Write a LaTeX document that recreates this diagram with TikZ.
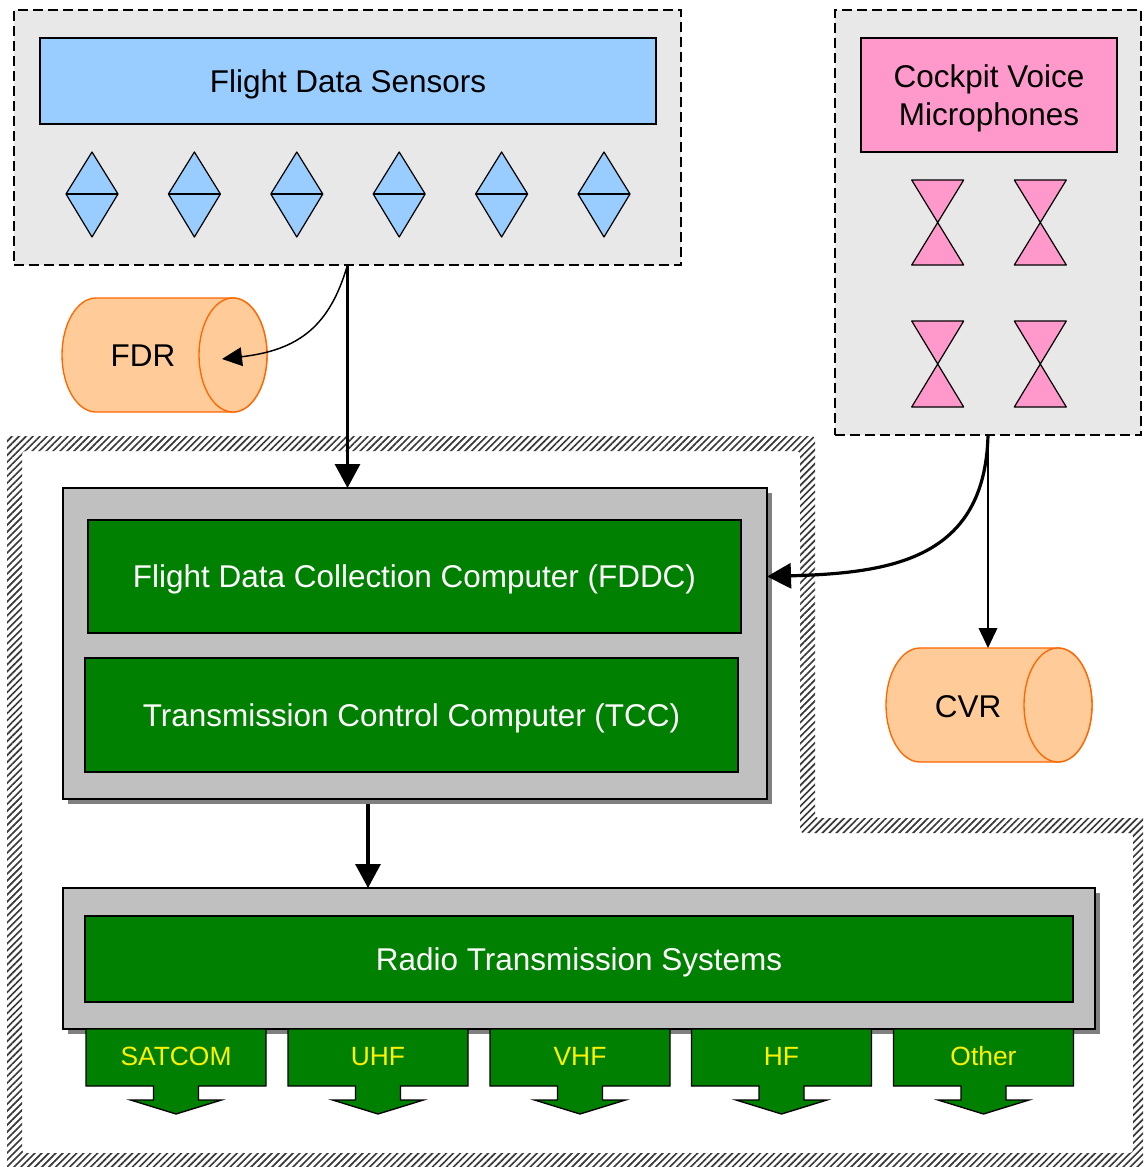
\documentclass[tikz,border=0pt]{standalone}
\usepackage{fontspec}
\setmainfont{Liberation Sans}
\usetikzlibrary{arrows.meta,shadows,patterns.meta}
\definecolor{groupgray}{HTML}{E8E8E8}
\definecolor{sensorblue}{HTML}{99CCFF}
\definecolor{micpink}{HTML}{FF99CC}
\definecolor{recfill}{HTML}{FFCC99}
\definecolor{recline}{HTML}{FF6600}
\definecolor{compgray}{HTML}{C0C0C0}
\definecolor{shadowgray}{HTML}{808080}
\definecolor{boxgreen}{HTML}{008000}
\definecolor{hatchcol}{HTML}{383838}
\newcommand\bigfont{\fontsize{23.6}{28.5}\selectfont}
\newcommand\smallfont{\fontsize{19.8}{24}\selectfont}
\begin{document}
\begin{tikzpicture}[x=0.75pt,y=-0.75pt,
  wh/.style 2 args={minimum width=#1*0.75pt, minimum height=#2*0.75pt, inner sep=0pt, outer sep=0pt},
  bigcap/.style={text height=16.9pt, text depth=0pt},
  smallcap/.style={text height=14.2pt, text depth=0pt},
  groupbox/.style={draw=black, fill=groupgray, line width=1.1pt, dash pattern=on 7.5pt off 3.75pt},
  colbox/.style={draw=black, line width=1pt, font=\bigfont, text=black, bigcap},
  container/.style={draw=black, fill=compgray, line width=0.8pt,
    drop shadow={shadow xshift=3.75pt, shadow yshift=-3.75pt, fill=shadowgray, opacity=1}},
  greenbox/.style={draw=black, fill=boxgreen, line width=1.1pt, font=\bigfont, text=white, bigcap},
  sensor/.style={draw=black, fill=sensorblue, line width=0.9pt, line join=round},
  mic/.style={draw=black, fill=micpink, line width=0.9pt, line join=round},
  recorder/.style={draw=recline, fill=recfill, line width=1pt},
  thickarrow/.style={line width=2.4pt, -{Triangle[length=18pt,width=18.75pt]}},
  thinarrow/.style={line width=1.1pt, -{Triangle[length=15pt,width=14pt]}},
  callout/.style={draw=black, fill=boxgreen, line width=1pt, line join=miter},
  calltext/.style={font=\smallfont, text=yellow, inner sep=0pt, smallcap},
  rectext/.style={font=\bigfont, text=black, inner sep=0pt, bigcap},
  hatchband/.style={pattern={Lines[angle=45,distance=3.7pt,line width=1.25pt]}, pattern color=hatchcol}
]
\useasboundingbox (0,0) rectangle (1143,1167);
\fill[white] (0,0) rectangle (1143,1167);
\clip (0,0) rectangle (1143,1167);

% hatched L-shaped border
\fill[hatchband, even odd rule, rounded corners=2.5pt]
  (7,436) -- (815,436) -- (815,818) -- (1148,818) -- (1148,1172) -- (7,1172) -- cycle
  (22,451) -- (800,451) -- (800,833) -- (1133,833) -- (1133,1153) -- (22,1153) -- cycle;

% flight data sensors group
\node[groupbox, wh={667}{255}] (fdsgroup) at (347.5,137.5) {};
\node[colbox, fill=sensorblue, wh={616}{86}] (fds) at (348,81) {Flight Data Sensors};
\foreach \cx in {92,194.4,296.8,399.2,501.6,604} {
  \draw[sensor] (\cx,152) -- (\cx+26,194) -- (\cx,237) -- (\cx-26,194) -- cycle;
  \draw[black, line width=0.9pt] (\cx-26,194) -- (\cx+26,194);
}

% cockpit voice microphones group
\node[groupbox, wh={306}{425}] (cvmgroup) at (988,222.5) {};
\node[colbox, fill=micpink, wh={256}{114}, align=center, text height=45.4pt] (cvm) at (989,95) {Cockpit Voice\\Microphones};
\foreach \cx in {937.7,1040.3} {
  \foreach \ty/\by in {180/265,321/407} {
    \draw[mic] (\cx-26,\ty) -- (\cx+26,\ty) -- (\cx-26,\by) -- (\cx+26,\by) -- cycle;
  }
}

% FDR cylinder
\draw[recorder] (96,298) -- (233,298)
  arc[start angle=90, end angle=-90, x radius=25.5pt, y radius=42.75pt]
  -- (96,412)
  arc[start angle=270, end angle=90, x radius=25.5pt, y radius=42.75pt] -- cycle;
\draw[recorder] (233,355) ellipse [x radius=25.5pt, y radius=42.75pt];
\node[rectext] (fdr) at (143,355) {FDR};
\coordinate (fdrface) at (222,359);

% CVR cylinder
\draw[recorder] (920,648) -- (1058,648)
  arc[start angle=90, end angle=-90, x radius=25.5pt, y radius=42.75pt]
  -- (920,762)
  arc[start angle=270, end angle=90, x radius=25.5pt, y radius=42.75pt] -- cycle;
\draw[recorder] (1058,705) ellipse [x radius=25.5pt, y radius=42.75pt];
\node[rectext] (cvr) at (968,706) {CVR};
\coordinate (cvrtop) at (988,648);

% computers container
\node[container, wh={704}{311}] (comp) at (415,643.5) {};
\node[greenbox, wh={653}{113}] (fddc) at (414.5,576.5) {Flight Data Collection Computer (FDDC)};
\node[greenbox, wh={653}{114}] (tcc) at (411.5,715) {Transmission Control Computer (TCC)};

% radio transmission systems container
\node[container, wh={1032}{141}] (radio) at (579,958.5) {};
\node[greenbox, wh={988}{86}] (rts) at (579,959) {Radio Transmission Systems};

% callouts
\foreach \lab/\cx in {SATCOM/176,UHF/378,VHF/580,HF/781.5,Other/983.5} {
  \draw[callout] (\cx-90,1029) -- (\cx+90,1029) -- (\cx+90,1086) -- (\cx+22.5,1086)
    -- (\cx+22.5,1100) -- (\cx+45.5,1100) -- (\cx,1114) -- (\cx-45.5,1100)
    -- (\cx-22.5,1100) -- (\cx-22.5,1086) -- (\cx-90,1086) -- cycle;
  \node[calltext] (co\lab) at (\cx,1056) {\lab};
}

% connectors
\draw[thickarrow] (fdsgroup.south) -- (fdsgroup.south |- comp.north);
\draw[thinarrow] (fdsgroup.south) .. controls (330,325) and (300,350) .. (fdrface);
\draw[thinarrow] (cvmgroup.south) -- (cvrtop);
\draw[thickarrow] (cvmgroup.south) .. controls (985,560) and (890,573) .. (comp.east |- fddc.east);
\coordinate (midx) at (368,0);
\draw[thickarrow] ([yshift=-3.75pt]comp.south -| midx) -- (radio.north -| midx);
\end{tikzpicture}
\end{document}
